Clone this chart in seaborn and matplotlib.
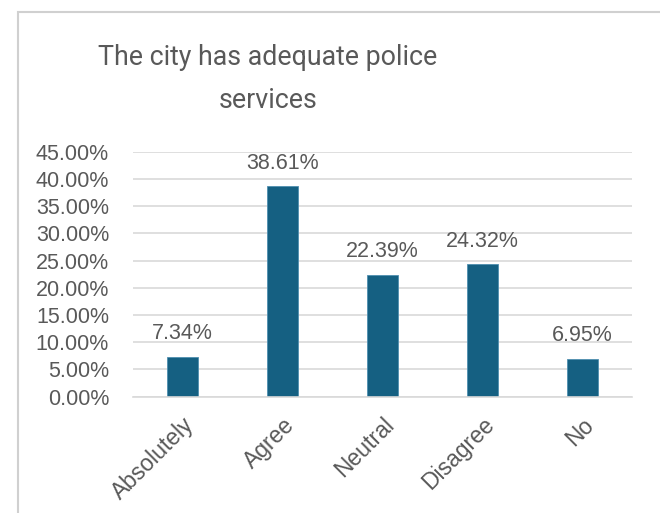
import matplotlib
matplotlib.use("Agg")
import matplotlib.pyplot as plt
from matplotlib.patches import Rectangle
from matplotlib.ticker import FuncFormatter, MultipleLocator
import seaborn as sns
import pandas as pd

# Survey answers and their shares (%)
categories = ["Absolutely", "Agree", "Neutral", "Disagree", "No"]
shares = [7.34, 38.61, 22.39, 24.32, 6.95]
title_lines = ["The city has adequate police", "services"]

sns.set_theme(style="white")
plt.rcParams["font.family"] = ["Liberation Sans", "DejaVu Sans"]

BAR = "#156082"
TEXT = "#595959"
GRID = "#D9D9D9"
FS = 15.5

df = pd.DataFrame({"answer": categories, "share": shares})

fig = plt.figure(figsize=(6.6, 5.13), dpi=100)
fig.patch.set_facecolor("white")

# chart frame
fig.patches.append(Rectangle((18 / 660, -0.05), 1.2, 1 - 12 / 513 + 0.05,
                             transform=fig.transFigure, fill=False,
                             edgecolor="#D0D0D0", linewidth=1.5))

ax = fig.add_axes([132.7 / 660, 1 - 396.7 / 513, (632 - 132.7) / 660, (396.7 - 151.7) / 513])
sns.barplot(data=df, x="answer", y="share", color=BAR, width=0.31,
            saturation=1, ax=ax, edgecolor="#4F8FB0", linewidth=0.6)

ax.set_ylim(0, 45)
ax.yaxis.set_major_locator(MultipleLocator(5))
ax.yaxis.set_major_formatter(FuncFormatter(lambda v, _: f"{v:.2f}%"))
ax.set_xlim(-0.5, len(categories) - 0.5)
ax.grid(axis="y", color=GRID, linewidth=1.2)
ax.set_axisbelow(True)
for s in ["left", "right", "top"]:
    ax.spines[s].set_visible(False)
ax.spines["bottom"].set_color(GRID)
ax.spines["bottom"].set_linewidth(1.2)
ax.set_xlabel("")
ax.set_ylabel("")
ax.tick_params(axis="y", length=0, pad=17, labelsize=FS, labelcolor=TEXT)
ax.tick_params(axis="x", length=0, pad=12, labelsize=16.5, labelcolor=TEXT)
for lbl in ax.get_xticklabels():
    lbl.set_rotation(45)
    lbl.set_ha("right")
    lbl.set_rotation_mode("anchor")

for i, v in enumerate(shares):
    ax.annotate(f"{v:.2f}%", (i, v), xytext=(0, 9), textcoords="offset points",
                ha="center", va="bottom", fontsize=FS, color=TEXT)

for line, y in zip(title_lines, [65, 108]):
    fig.text(268 / 660, 1 - y / 513, line, ha="center", va="baseline",
             fontsize=19.3, color=TEXT, family=["Roboto", "DejaVu Sans"])

fig.savefig("out.png", dpi=100, facecolor="white")
